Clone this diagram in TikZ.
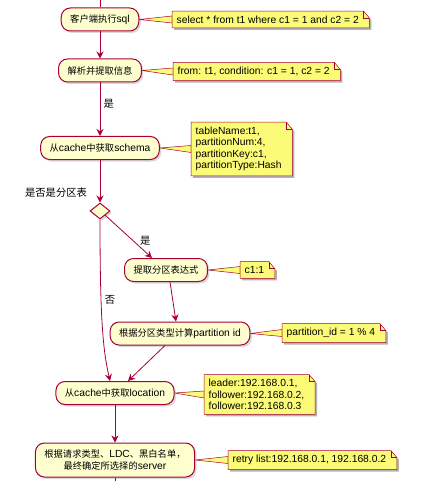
\documentclass[tikz,border=0pt]{standalone}
\usepackage{fontspec}
\setmainfont{Liberation Sans}
\newfontfamily\zh[Scale=0.9]{Noto Sans CJK SC}
\newfontfamily\zhl{Noto Sans CJK SC}
\usetikzlibrary{arrows.meta, positioning, calc, shapes.geometric, shadows, backgrounds}
\definecolor{umlred}{HTML}{A80036}
\definecolor{actfill}{HTML}{FEFECE}
\definecolor{notefill}{HTML}{FBFB77}

\begin{document}
\begin{tikzpicture}[x=1pt, y=-1pt, font=\fontsize{10.3}{11.5}\selectfont,
  act/.style={draw=umlred, fill=actfill, line width=1pt, rounded corners=9pt, minimum height=23pt, inner xsep=9pt, align=center, drop shadow={shadow xshift=2pt, shadow yshift=-2pt, opacity=0.3}},
  note/.style={anchor=west, inner xsep=4.5pt, inner ysep=4.5pt, align=left},
  flow/.style={umlred, line width=0.8pt, -{Stealth[length=7pt, width=7pt]}},
  lbl/.style={text=black, font=\zhl\fontsize{10.3}{11}\selectfont},
  link/.style={draw=umlred, fill=notefill, line width=0.5pt}]
\useasboundingbox (0,0) rectangle (431,481);
\coordinate (top) at (100,0);
\coordinate (bottom) at (115,481);
% activities
\node[act] (exec) at (100,19.5) {{\zh 客户端执行}sql};
\node[act] (parse) at (100,70.5) {{\zh 解析并提取信息}};
\node[act] (schema) at (100,148) {{\zh 从}cache{\zh 中获取}schema};
\node[diamond, draw=umlred, fill=actfill, line width=1pt, minimum width=20pt, minimum height=16pt, inner sep=0pt, drop shadow={shadow xshift=2pt, shadow yshift=-2pt, opacity=0.3}] (dia) at (100,211) {};
\node[lbl] (ask) at (56,193) {是否是分区表};
\node[act] (expr) at (166,270) {{\zh 提取分区表达式}};
\node[act] (calc) at (180,333.5) {{\zh 根据分区类型计算}partition id};
\node[act] (loc) at (115,393) {{\zh 从}cache{\zh 中获取}location};
\node[act, minimum height=34pt] (server) at (115,460) {{\zh 根据请求类型、}LDC{\zh 、黑白名单，}\\{\zh 最终确定所选择的}server};
% notes
\node[note] (nSql) at (172,19.5) {select * from t1 where c1 = 1 and c2 = 2};
\node[note] (nParse) at (173,71.5) {from: t1, condition: c1 = 1, c2 = 2};
\node[note] (nSchema) at (191,149) {tableName:t1,\\partitionNum:4,\\partitionKey:c1,\\partitionType:Hash};
\node[note] (nExpr) at (240,270) {c1:1};
\node[note] (nCalc) at (282,333) {partition\_id = 1 \% 4};
\node[note] (nLoc) at (204,394.5) {leader:192.168.0.1,\\follower:192.168.0.2,\\follower:192.168.0.3};
\node[note] (nServer) at (228,460) {retry list:192.168.0.1, 192.168.0.2};
\begin{pgfonlayer}{background}
\foreach \a/\n in {exec/nSql, parse/nParse, schema/nSchema, expr/nExpr, calc/nCalc, loc/nLoc, server/nServer} {
  \draw[link] (\a.east) -- ([yshift=3.5pt]\n.west) -- ([yshift=-3.5pt]\n.west) -- cycle;
  \fill[black, opacity=0.3] ([shift={(2pt,-2pt)}]\n.north west) -- ([shift={(1pt,-2pt)}]\n.north east) -- ([shift={(8pt,-9pt)}]\n.north east) -- ([shift={(8pt,-2pt)}]\n.south east) -- ([shift={(2pt,-2pt)}]\n.south west) -- cycle;
  \draw[link] (\n.north west) -- (\n.north east) -- ([shift={(6pt,-7pt)}]\n.north east) -- ([xshift=6pt]\n.south east) -- (\n.south west) -- cycle;
  \draw[umlred, line width=0.5pt] (\n.north east) |- ([shift={(6pt,-7pt)}]\n.north east);
}
\end{pgfonlayer}
% flow
\draw[umlred, line width=0.8pt] (top) -- (exec);
\draw[flow] (exec) -- (parse);
\draw[flow] (parse) -- node[right, lbl, pos=0.4] {是} (schema);
\draw[flow] (schema) -- (dia);
\draw[flow] (dia.south east) -- node[right=3pt, pos=0.6, lbl] {是} ([xshift=-14pt]expr.north);
\draw[flow] ([xshift=4pt]expr.south) -- ([xshift=-4pt]calc.north);
\draw[flow] ([xshift=-15pt]calc.south) -- ([xshift=13pt]loc.north);
\draw[flow] (dia.south) .. controls (100,320) and (103,350) .. node[right, pos=0.34, lbl] {否} ([xshift=-5pt]loc.north);
\draw[flow] (loc) -- (server);
\draw[umlred, line width=0.8pt] (server) -- (bottom);
\end{tikzpicture}
\end{document}
